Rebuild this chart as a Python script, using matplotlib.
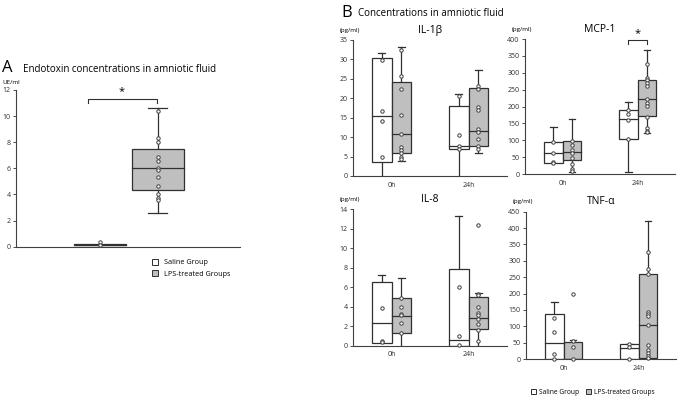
import matplotlib.pyplot as plt
from matplotlib.patches import Patch, Rectangle

plt.rcParams['font.family'] = ['Open Sans', 'DejaVu Sans']

# Panel A: endotoxin (saline, LPS)
endo_q1 = [0.1, 4.35]
endo_med = [0.15, 6.0]
endo_q3 = [0.2, 7.5]
endo_wlo = [0.1, 2.6]
endo_whi = [0.2, 10.6]
endo_pts = [[0.35, 0.1],
            [10.4, 8.3, 8.0, 6.85, 6.6, 6.0, 5.85, 5.35, 4.65, 4.05, 3.75, 3.55]]

# Panel B: order = 0h saline, 0h LPS, 24h saline, 24h LPS
il1b_q1 = [3.5, 5.8, 6.9, 7.8]
il1b_med = [15.4, 10.7, 7.8, 11.6]
il1b_q3 = [30.3, 24.1, 18.1, 22.6]
il1b_wlo = [0, 3.8, 0, 5.8]
il1b_whi = [31.7, 33.3, 21.0, 27.2]
il1b_pts = [[29.8, 16.7, 14.1, 5.0],
            [32.3, 25.8, 22.5, 15.8, 10.8, 7.5, 6.8, 6.0, 5.0, 4.5],
            [20.7, 10.6, 7.8, 7.0],
            [23.2, 22.5, 17.8, 16.9, 12.0, 11.3, 9.4, 7.8, 7.0]]

mcp_q1 = [33.6, 42.5, 105, 171]
mcp_med = [61, 64, 162, 223]
mcp_q3 = [95.8, 97, 190, 280]
mcp_wlo = [33.6, 5, 7, 122]
mcp_whi = [140, 162, 212, 366]
mcp_pts = [[96, 62, 35, 33],
           [97, 86, 70, 62, 47, 30, 15, 8],
           [190, 178, 160, 105],
           [327, 285, 279, 271, 262, 222, 209, 202, 168, 136, 126, 124]]

il8_q1 = [0.27, 1.27, 0, 1.68]
il8_med = [2.3, 3.0, 0.55, 2.87]
il8_q3 = [6.5, 4.86, 7.84, 4.96]
il8_wlo = [0.27, 0, 0, 0]
il8_whi = [7.3, 6.9, 13.3, 5.37]
il8_pts = [[3.9, 0.5, 0.35],
           [4.86, 4.0, 3.3, 3.1, 2.3, 1.3],
           [6.06, 1.03, 0.03],
           [12.4, 5.3, 5.2, 4.0, 3.4, 3.2, 2.7, 2.2, 1.6, 0.5]]

tnf_q1 = [0, 0, 0, 2]
tnf_med = [47.9, 0, 34.6, 103.8]
tnf_q3 = [136.4, 51, 44.8, 260.6]
tnf_wlo = [0, 0, 0, 0]
tnf_whi = [175, 59, 47, 421.5]
tnf_pts = [[124, 83.5, 14, 0],
           [197.5, 55, 35.6, 1],
           [45, 36, 1],
           [327.8, 275, 258.6, 144.6, 138.5, 132.4, 103.8, 42.8, 28.5, 17.3, 9.2, 2]]

times = ['0h', '24h']
groups = ['Saline Group', 'LPS-treated Groups']

WHITE = 'white'
GREY = '#bfbfbf'
EDGE = '#303030'


def draw_box(ax, x, w, q1, med, q3, wlo, whi, pts, fc):
    if whi > q3:
        ax.plot([x, x], [q3, whi], color=EDGE, lw=0.9, zorder=1)
        ax.plot([x - w * 0.18, x + w * 0.18], [whi, whi], color=EDGE, lw=0.9, zorder=1)
    if wlo < q1:
        ax.plot([x, x], [wlo, q1], color=EDGE, lw=0.9, zorder=1)
        if wlo > 0:
            ax.plot([x - w * 0.18, x + w * 0.18], [wlo, wlo], color=EDGE, lw=0.9, zorder=1)
    ax.add_patch(Rectangle((x - w / 2, q1), w, q3 - q1, facecolor=fc,
                           edgecolor=EDGE, lw=0.9, zorder=2))
    ax.plot([x - w / 2, x + w / 2], [med, med], color=EDGE, lw=0.9, zorder=3)
    ax.scatter([x] * len(pts), pts, s=6, facecolor='white', edgecolor='#404040',
               linewidth=0.7, zorder=4, clip_on=False)


def style_axes(ax):
    for s in ['top', 'right']:
        ax.spines[s].set_visible(False)
    for s in ['left', 'bottom']:
        ax.spines[s].set_color('#404040')
        ax.spines[s].set_linewidth(0.8)
    ax.tick_params(axis='y', labelsize=5, length=2, width=0.6, pad=2, colors='#303030')
    ax.tick_params(axis='x', labelsize=5, length=0, pad=4, colors='#303030')


fig = plt.figure(figsize=(6.91, 4.01), dpi=100)

# ---- Panel A ----
axA = fig.add_axes([16 / 691, 1 - 246.7 / 401, 224 / 691, 156.7 / 401])
style_axes(axA)
for i, fc in enumerate([WHITE, GREY]):
    draw_box(axA, i + 1, 0.91, endo_q1[i], endo_med[i], endo_q3[i],
             endo_wlo[i], endo_whi[i], endo_pts[i], fc)
axA.set_xlim(-0.448, 3.414)
axA.set_ylim(0, 12)
axA.set_yticks(range(0, 13, 2))
axA.set_xticks([])
axA.plot([0.8, 0.8, 1.98, 1.98], [11.0, 11.3, 11.3, 11.0], color=EDGE, lw=0.8, clip_on=False)
axA.text(1.38, 11.45, '*', ha='center', va='bottom', fontsize=8)
axA.text(-0.02, 1.045, 'UE/ml', transform=axA.transAxes, ha='center', va='center', fontsize=4.5)
fig.text(2 / 691, 1 - 68 / 401, 'A', fontsize=12, va='center', ha='left')
fig.text(23 / 691, 1 - 70 / 401, 'Endotoxin concentrations in amniotic fluid',
         fontsize=7.0, va='center', ha='left')
handles = [Patch(facecolor=WHITE, edgecolor=EDGE, lw=0.7),
           Patch(facecolor=GREY, edgecolor=EDGE, lw=0.7)]
fig.legend(handles, groups, loc='upper left', bbox_to_anchor=(152 / 691, 1 - 259 / 401),
           frameon=False, fontsize=5.2, handlelength=0.8, handleheight=0.8,
           handletextpad=0.8, labelspacing=0.55, borderaxespad=0, borderpad=0)

# ---- Panel B ----
fig.text(341 / 691, 1 - 13 / 401, 'B', fontsize=12, va='center', ha='left')
fig.text(358 / 691, 1 - 14 / 401, 'Concentrations in amniotic fluid',
         fontsize=7.0, va='center', ha='left')

panels = [
    ([353, 40, 507, 176], 'IL-1β', 35, 5, il1b_q1, il1b_med, il1b_q3, il1b_wlo, il1b_whi, il1b_pts),
    ([525, 39, 675, 174], 'MCP-1', 400, 50, mcp_q1, mcp_med, mcp_q3, mcp_wlo, mcp_whi, mcp_pts),
    ([353, 209.3, 507, 345.7], 'IL-8', 14, 2, il8_q1, il8_med, il8_q3, il8_wlo, il8_whi, il8_pts),
    ([526, 211.7, 676, 359], 'TNF-α', 450, 50, tnf_q1, tnf_med, tnf_q3, tnf_wlo, tnf_whi, tnf_pts),
]
axes_b = []
for box, title, ymax, step, q1, med, q3, wlo, whi, pts in panels:
    x0, y0, x1, y1 = box
    ax = fig.add_axes([x0 / 691, 1 - y1 / 401, (x1 - x0) / 691, (y1 - y0) / 401])
    style_axes(ax)
    w = 0.25
    for j in range(4):
        pos = j // 2 + (-0.125 if j % 2 == 0 else 0.125)
        fc = WHITE if j % 2 == 0 else GREY
        draw_box(ax, pos, w, q1[j], med[j], q3[j], wlo[j], whi[j], pts[j], fc)
    ax.set_xlim(-0.5, 1.5)
    ax.set_ylim(0, ymax)
    ax.set_yticks(range(0, ymax + 1, step))
    ax.set_xticks([0, 1])
    ax.set_xticklabels(times)
    ax.text(0.5, 1.03, title, transform=ax.transAxes, ha='center', va='bottom', fontsize=7.5)
    ax.text(-0.02, 1.07, '(pg/ml)', transform=ax.transAxes, ha='center', va='center', fontsize=4.5)
    axes_b.append(ax)

# significance bracket in MCP-1
axm = axes_b[1]
axm.plot([0.875, 0.875, 1.125, 1.125], [385, 397, 397, 385], color=EDGE, lw=0.8, clip_on=False)
axm.text(1.0, 400, '*', ha='center', va='bottom', fontsize=8)

fig.legend(handles, groups, loc='center left', bbox_to_anchor=(531 / 691, 1 - 392 / 401),
           ncol=2, frameon=False, fontsize=4.8, handlelength=0.8, handleheight=0.8,
           handletextpad=0.4, columnspacing=1.0, borderaxespad=0, borderpad=0)

fig.savefig('out.png', dpi=100)
